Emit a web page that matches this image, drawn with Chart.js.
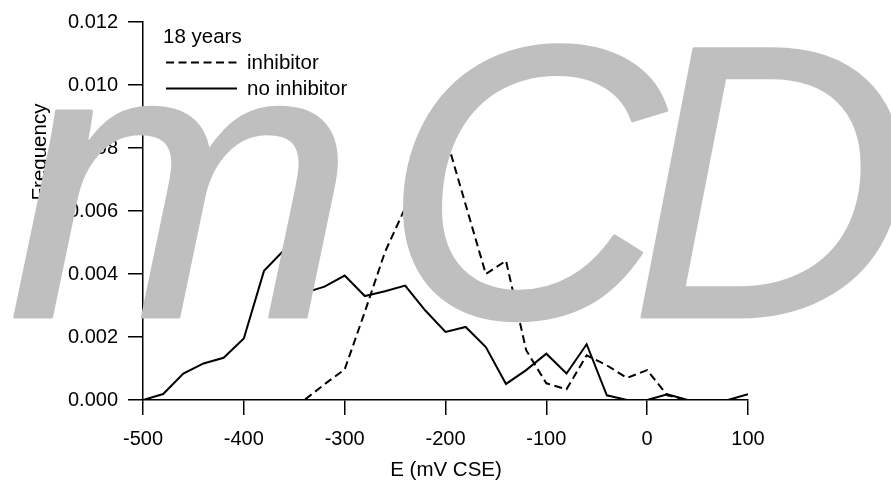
<!DOCTYPE html>
<html>
<head>
<meta charset="utf-8">
<script src="https://cdn.jsdelivr.net/npm/chart.js@4.4.1/dist/chart.umd.min.js"></script>
<style>
    html, body { margin: 0; padding: 0; background: #fff; }
    #wrap { width: 891px; height: 484px; }
</style>
</head>
<body>
<div id="wrap"><canvas id="chart" width="891" height="484"></canvas></div>
<script>
const energy = [-500, -480, -460, -440, -420, -400, -380, -360, -340, -320, -300, -280, -260, -240, -220, -200,
    -180, -160, -140, -120, -100, -80, -60, -40, -20, 0, 20, 40, 60, 80, 100];

const inhibitor = [0, 0, 0, 0, 0, 0, 0, 0, 0, 0.0005, 0.00097, 0.0028, 0.0047, 0.0061, 0.0074, 0.0084,
    0.0062, 0.0040, 0.00442, 0.00158, 0.00053, 0.00034, 0.00142, 0.0011, 0.0007, 0.00095, 0.00015, 0, 0, 0, 0];

const noInhibitor = [0, 0.00019, 0.00084, 0.00116, 0.00134, 0.00195, 0.0041, 0.00476, 0.0034, 0.0036, 0.00395,
    0.0033, 0.00345, 0.00363, 0.00284, 0.00216, 0.00232, 0.00168, 0.00051, 0.00095, 0.00147, 0.00084, 0.00177,
    0.00015, 0, 0, 0.00018, 0, 0, 0, 0.00018];

const xTicks = [-500, -400, -300, -200, -100, 0, 100];
const yTicks = [0, 0.002, 0.004, 0.006, 0.008, 0.010, 0.012];

const legendTitle = '18 years';
const seriesNames = ['inhibitor', 'no inhibitor'];
const xTitle = 'E (mV CSE)';
const yTitle = 'Frequency';
const watermark = ['m', 'C', 'D'];

const FONT = '"Liberation Sans", Arial, sans-serif';
const DASH = [8, 4.5];

function toPoints(values) {
    return energy.map((e, i) => ({ x: e, y: values[i] }));
}

const overlay = {
    id: 'overlay',
    afterDraw(chart) {
        const ctx = chart.ctx;
        ctx.save();
        ctx.fillStyle = '#000';
        ctx.font = '20.5px ' + FONT;
        ctx.textBaseline = 'alphabetic';

        // legend
        ctx.textAlign = 'left';
        ctx.fillText(legendTitle, 163, 43);
        ctx.strokeStyle = '#000';
        ctx.lineWidth = 2;
        ctx.setLineDash(DASH);
        ctx.beginPath();
        ctx.moveTo(166, 62.5);
        ctx.lineTo(237, 62.5);
        ctx.stroke();
        ctx.setLineDash([]);
        ctx.beginPath();
        ctx.moveTo(166, 88.5);
        ctx.lineTo(237, 88.5);
        ctx.stroke();
        ctx.fillText(seriesNames[0], 247, 69);
        ctx.fillText(seriesNames[1], 247, 95);

        // axis titles
        ctx.textAlign = 'center';
        ctx.fillText(xTitle, 446, 476);
        ctx.save();
        ctx.translate(46, 152);
        ctx.rotate(-Math.PI / 2);
        ctx.fillText(yTitle, 0, 0);
        ctx.restore();

        // watermark, one letter at a time
        ctx.textAlign = 'left';
        ctx.font = 'italic 390px ' + FONT;
        ctx.fillStyle = '#bfbfbf';
        ctx.strokeStyle = '#bfbfbf';
        ctx.lineWidth = 3;
        ctx.lineJoin = 'round';
        const wx = [8, 383, 630];
        const sx = [1.07, 1, 1];
        watermark.forEach((ch, i) => {
            ctx.save();
            ctx.translate(wx[i], 317);
            ctx.scale(sx[i], 1);
            ctx.fillText(ch, 0, 0);
            ctx.strokeText(ch, 0, 0);
            ctx.restore();
        });
        ctx.restore();
    }
};

const axisStyle = {
    grid: { drawOnChartArea: false, drawTicks: true, tickLength: 15, color: '#000', lineWidth: 1.5 },
    border: { display: true, color: '#000', width: 1.5 }
};

new Chart(document.getElementById('chart').getContext('2d'), {
    type: 'line',
    data: {
        datasets: [
            {
                label: seriesNames[0],
                data: toPoints(inhibitor),
                borderColor: '#000',
                borderWidth: 2,
                borderDash: DASH,
                pointRadius: 0,
                tension: 0,
                fill: false
            },
            {
                label: seriesNames[1],
                data: toPoints(noInhibitor),
                borderColor: '#000',
                borderWidth: 2,
                pointRadius: 0,
                tension: 0,
                fill: false
            }
        ]
    },
    options: {
        responsive: false,
        animation: false,
        layout: { padding: { left: 0, right: 143, top: 20, bottom: 0 } },
        plugins: {
            legend: { display: false },
            tooltip: { enabled: false }
        },
        scales: {
            x: {
                type: 'linear',
                min: xTicks[0],
                max: xTicks[xTicks.length - 1],
                afterBuildTicks: (s) => { s.ticks = xTicks.map(v => ({ value: v })); },
                afterFit: (s) => { s.height = 84; },
                ticks: { color: '#000', font: { size: 20, family: FONT }, padding: 12, maxRotation: 0 },
                ...axisStyle
            },
            y: {
                type: 'linear',
                min: yTicks[0],
                max: yTicks[yTicks.length - 1],
                afterBuildTicks: (s) => { s.ticks = yTicks.map(v => ({ value: v })); },
                afterFit: (s) => { s.width = 143; },
                ticks: {
                    color: '#000',
                    font: { size: 20, family: FONT },
                    padding: 10,
                    callback: (v) => v.toFixed(3)
                },
                ...axisStyle
            }
        }
    },
    plugins: [overlay]
});
</script>
</body>
</html>
